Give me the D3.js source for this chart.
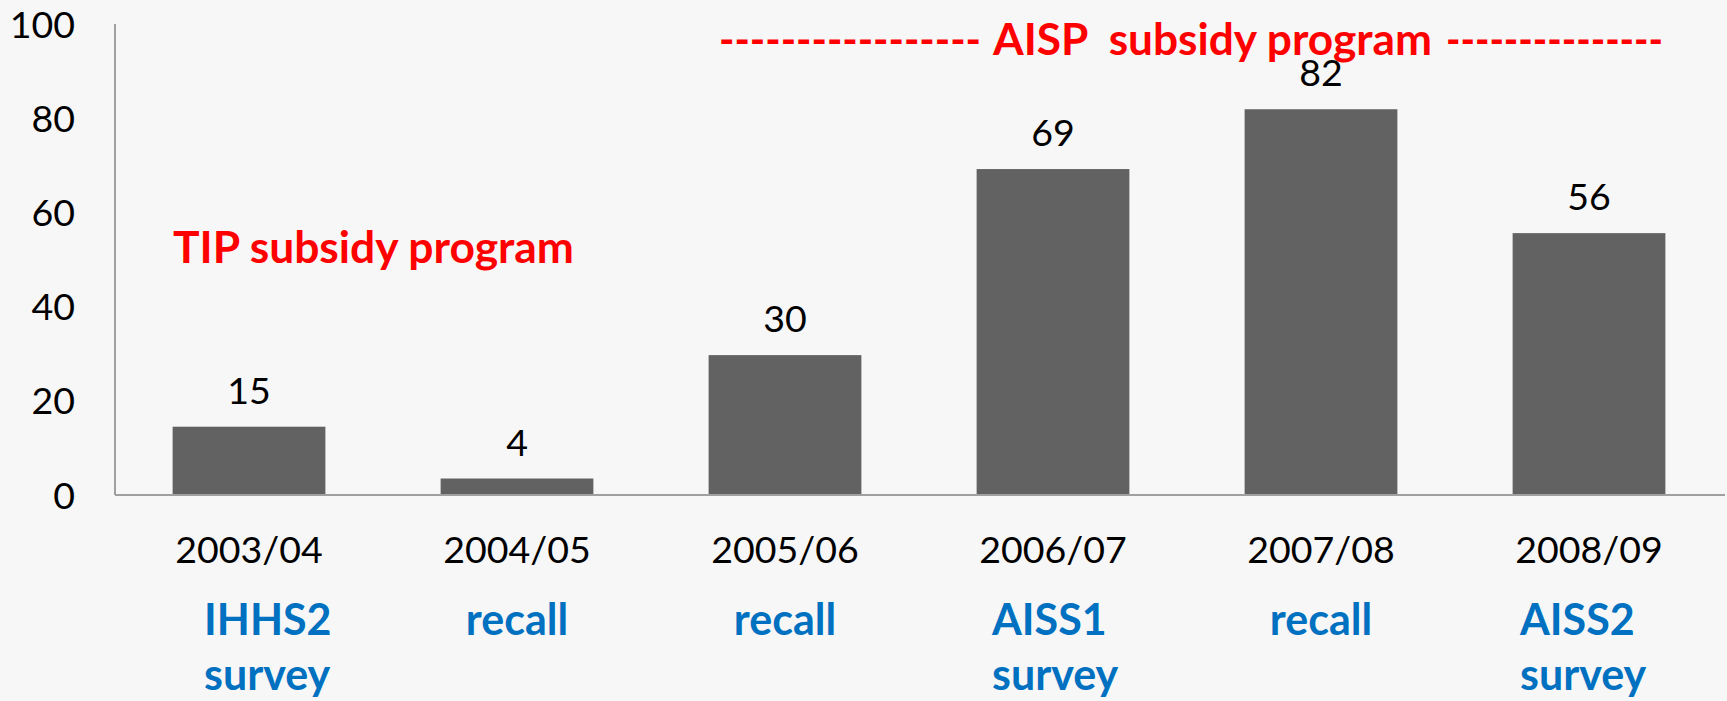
<!DOCTYPE html>
<html>
<head>
<meta charset="utf-8">
<script src="https://cdn.jsdelivr.net/npm/d3@7"></script>
<style>
    body { margin: 0; background: #f7f7f7; }
    svg { display: block; font-family: Lato, "Open Sans", sans-serif; }
</style>
</head>
<body>
<div id="chart"></div>
<script>
// Data
const years = ["2003/04", "2004/05", "2005/06", "2006/07", "2007/08", "2008/09"];
const values = [14.5, 3.5, 29.7, 69.2, 81.9, 55.6];
const valueLabels = ["15", "4", "30", "69", "82", "56"];
const sources = [["IHHS2", "survey"], ["recall"], ["recall"], ["AISS1", "survey"], ["recall"], ["AISS2", "survey"]];
const yTicks = [0, 20, 40, 60, 80, 100];

// Two-line source labels are left aligned text boxes, nudged from the bar centre
const sourceNudge = [-45, 0, 0, -61, 0, -69];

const width = 1727;
const height = 701;

const svg = d3.select("#chart")
    .append("svg")
    .attr("width", width)
    .attr("height", height);

svg.append("rect")
    .attr("width", width)
    .attr("height", height)
    .attr("fill", "#f7f7f7");

const x = d3.scaleBand()
    .domain(years)
    .range([115, 1723])
    .paddingInner(0.43)
    .paddingOuter(0.215);

const y = d3.scaleLinear()
    .domain([0, 100])
    .range([495, 24]);

// Bars
svg.append("g")
    .selectAll("rect")
    .data(values)
    .enter()
    .append("rect")
    .attr("x", (d, i) => x(years[i]))
    .attr("y", d => y(d))
    .attr("width", x.bandwidth())
    .attr("height", d => y(0) - y(d))
    .attr("fill", "#626262");

// Axes lines
svg.append("line")
    .attr("x1", x.range()[0]).attr("x2", x.range()[0])
    .attr("y1", y(100)).attr("y2", y(0))
    .attr("stroke", "#a0a0a0").attr("stroke-width", 2);

svg.append("line")
    .attr("x1", x.range()[0]).attr("x2", 1725)
    .attr("y1", y(0)).attr("y2", y(0))
    .attr("stroke", "#a0a0a0").attr("stroke-width", 2);

// Y tick labels
svg.append("g")
    .selectAll("text")
    .data(yTicks)
    .enter()
    .append("text")
    .attr("x", 75)
    .attr("y", d => y(d) + 13.5)
    .attr("text-anchor", "end")
    .attr("font-size", 37.5)
    .attr("fill", "#000")
    .text(d => d);

// Value labels
svg.append("g")
    .selectAll("text")
    .data(values)
    .enter()
    .append("text")
    .attr("x", (d, i) => x(years[i]) + x.bandwidth() / 2)
    .attr("y", d => y(d) - 23)
    .attr("text-anchor", "middle")
    .attr("font-size", 37.5)
    .attr("fill", "#000")
    .text((d, i) => valueLabels[i]);

// Category labels
svg.append("g")
    .selectAll("text")
    .data(years)
    .enter()
    .append("text")
    .attr("x", d => x(d) + x.bandwidth() / 2)
    .attr("y", 563)
    .attr("text-anchor", "middle")
    .attr("font-size", 37.5)
    .attr("fill", "#000")
    .text(d => d);

// Source labels (blue)
const src = svg.append("g")
    .selectAll("text")
    .data(sources)
    .enter()
    .append("text")
    .attr("font-size", 43)
    .attr("font-weight", "bold")
    .attr("fill", "#0070c0")
    .attr("text-anchor", d => d.length > 1 ? "start" : "middle")
    .attr("transform", (d, i) => {
        const cx = x(years[i]) + x.bandwidth() / 2 + sourceNudge[i];
        return `translate(${cx},635)`;
    });

src.selectAll("tspan")
    .data(d => d)
    .enter()
    .append("tspan")
    .attr("x", 0)
    .attr("y", (d, j) => j * 55)
    .text(d => d);

// Programme annotations (red)
svg.append("text")
    .attr("x", 173)
    .attr("y", 263)
    .attr("font-size", 43)
    .attr("font-weight", "bold")
    .attr("fill", "#ff0000")
    .attr("textLength", 401)
    .attr("lengthAdjust", "spacingAndGlyphs")
    .text("TIP subsidy program");

svg.append("text")
    .attr("x", 719)
    .attr("y", 55)
    .attr("font-size", 43)
    .attr("font-weight", "bold")
    .attr("fill", "#ff0000")
    .attr("textLength", 262)
    .attr("lengthAdjust", "spacingAndGlyphs")
    .text("-----------------");

svg.append("text")
    .attr("x", 993)
    .attr("y", 55)
    .attr("font-size", 43)
    .attr("font-weight", "bold")
    .attr("fill", "#ff0000")
    .attr("textLength", 439)
    .attr("lengthAdjust", "spacingAndGlyphs")
    .style("white-space", "pre")
    .text("AISP  subsidy program");

svg.append("text")
    .attr("x", 1446)
    .attr("y", 55)
    .attr("font-size", 43)
    .attr("font-weight", "bold")
    .attr("fill", "#ff0000")
    .attr("textLength", 217)
    .attr("lengthAdjust", "spacingAndGlyphs")
    .text("---------------");
</script>
</body>
</html>
